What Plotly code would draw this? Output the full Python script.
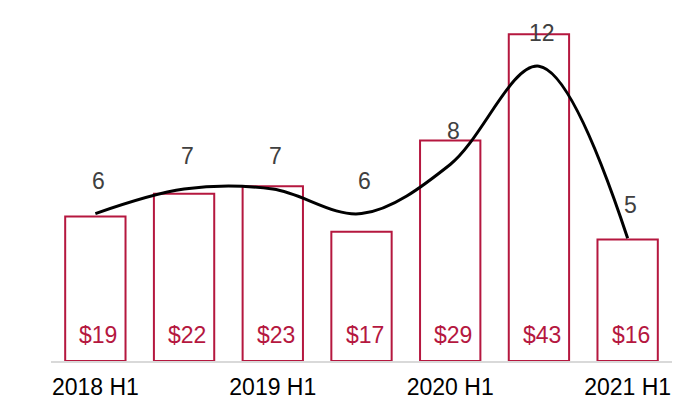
import plotly.graph_objects as go

# Half-year periods
periods = ["2018 H1", "2018 H2", "2019 H1", "2019 H2", "2020 H1", "2020 H2", "2021 H1"]
# Dollar amounts (bars)
amounts = [19, 22, 23, 17, 29, 43, 16]
# Counts (smoothed line, secondary axis)
counts = [6, 7, 7, 6, 8, 12, 5]
# Tick labels shown on the category axis
tick_vals = ["2018 H1", "2019 H1", "2020 H1", "2021 H1"]

CRIMSON = "#B5173F"
FONT = "Liberation Sans, Arial, sans-serif"

fig = go.Figure()

fig.add_trace(go.Bar(
    x=periods, y=amounts,
    marker=dict(color="white", line=dict(color=CRIMSON, width=2)),
    hoverinfo="skip",
))

fig.add_trace(go.Scatter(
    x=periods, y=counts, yaxis="y2",
    mode="lines",
    line=dict(color="black", width=3, shape="spline", smoothing=1),
    hoverinfo="skip",
))

annotations = []
for p, a in zip(periods, amounts):
    annotations.append(dict(
        x=p, y=0, xref="x", yref="y", text=f"${a}",
        showarrow=False, yanchor="middle", yshift=26, xshift=3,
        font=dict(family=FONT, size=23, color=CRIMSON),
    ))
for p, c in zip(periods, counts):
    annotations.append(dict(
        x=p, y=c, xref="x", yref="y2", text=str(c),
        showarrow=False, yanchor="middle", yshift=33, xshift=3,
        font=dict(family=FONT, size=23, color="#404040"),
    ))

fig.update_layout(
    width=674, height=403,
    margin=dict(l=51, r=2, t=20, b=42),
    paper_bgcolor="white", plot_bgcolor="white",
    showlegend=False,
    bargap=0.32,
    font=dict(family=FONT, size=23, color="black"),
    xaxis=dict(
        type="category",
        tickmode="array", tickvals=tick_vals, ticktext=tick_vals,
        showgrid=False, zeroline=False,
        showline=True, linecolor="#D9D9D9", linewidth=2,
        ticks="", ticklabelstandoff=4,
        tickfont=dict(family=FONT, size=23, color="black"),
    ),
    yaxis=dict(range=[0, 44.87], visible=False, showgrid=False, zeroline=False),
    yaxis2=dict(range=[0, 13.88], overlaying="y", visible=False,
                showgrid=False, zeroline=False),
    annotations=annotations,
)

fig.write_html("out.html")
